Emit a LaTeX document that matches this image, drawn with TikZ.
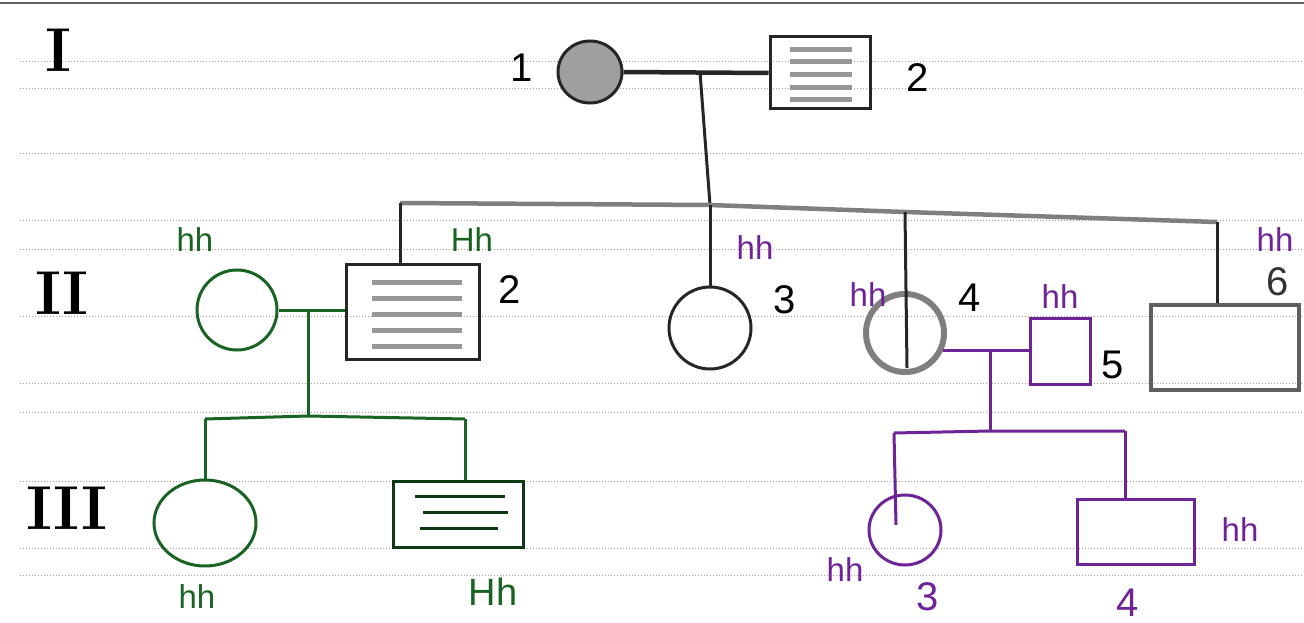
\documentclass[tikz,border=0pt]{standalone}
\usepackage{fontspec}
\newfontfamily\hand{Liberation Sans}
\usetikzlibrary{shapes.geometric}
\definecolor{pgreen}{RGB}{25,100,35}
\definecolor{ppurple}{RGB}{110,35,150}
\definecolor{pgray}{RGB}{95,95,95}
\definecolor{rule}{RGB}{185,150,150}
\tikzset{
  fem/.style={ellipse, draw, line width=3pt, inner sep=0pt},
  mal/.style={rectangle, draw, line width=3pt, inner sep=0pt},
  lnk/.style={line width=3pt},
  gt/.style={font=\hand\fontsize{33}{35}\selectfont, inner sep=1pt},
  num/.style={font=\hand\fontsize{40}{42}\selectfont, inner sep=1pt},
  gen/.style={font=\bfseries\fontsize{62}{64}\selectfont, inner sep=0pt},
  hatch/.style={line width=5pt, pgray!65},
  ruled/.style={rule, line width=1pt, dotted}
}
\begin{document}
\begin{tikzpicture}[x=1pt,y=-1pt]
\useasboundingbox (0,0) rectangle (1304,623);
\fill[white] (0,0) rectangle (1304,623);
% ruled paper
\foreach \y in {62,89,154,220,249,316,383,412,481,548,575}
  \draw[ruled] (20,\y) -- (1304,\y);
\draw[pgray, line width=2pt] (0,3) -- (1304,3);
% generation labels
\node[gen] (g1) at (58,50) {I};
\node[gen] (g2) at (62,293) {II};
\node[gen] (g3) at (67,508) {III};
% generation I
\node[fem, fill=pgray!60, draw=black!85, minimum width=64pt, minimum height=62pt] (i1) at (590,72) {};
\node[mal, draw=black!85, minimum width=100pt, minimum height=72pt] (i2) at (820,73) {};
\foreach \y in {50,62,75,88,100} \draw[hatch] (790,\y) -- (852,\y);
\node[num] (l11) at (522,68) {1};
\node[num] (l12) at (918,78) {2};
\draw[lnk, black!85, line width=4.5pt] (i1.east) -- (i2.west);
\coordinate (m1) at (700,72);
\coordinate (s1) at (710,205);
\draw[lnk, black!85] (m1) -- (s1);
% generation II sibship (gray)
\coordinate (s1a) at (400,203);
\coordinate (s1d) at (1217,222);
\draw[lnk, pgray!80, line width=4.5pt] (s1a) -- (s1) -- (905,212) -- (s1d);
% II individuals
\node[fem, draw=pgreen, minimum size=80pt] (ii1) at (237,310) {};
\node[mal, draw=black!85, minimum width=133pt, minimum height=95pt] (ii2) at (413,312) {};
\foreach \y in {282,298,314,330,346} \draw[hatch] (372,\y) -- (462,\y);
\node[fem, draw=black!85, minimum size=82pt] (ii3) at (710,328) {};
\node[fem, draw=pgray!80, line width=6pt, minimum size=78pt] (ii4) at (905,333) {};
\node[mal, draw=ppurple, minimum width=60pt, minimum height=66pt] (ii5) at (1060,351) {};
\node[mal, draw=pgray, line width=4pt, minimum width=148pt, minimum height=85pt] (ii6) at (1225,347) {};
% drops from gen I sibship
\draw[lnk, black!85] (s1a) -- (s1a |- ii2.north);
\draw[lnk, black!85] (s1) -- (s1 |- ii3.north);
\draw[lnk, black!85] (905,212) -- (907,368);
\draw[lnk, black!85] (s1d) -- (s1d |- ii6.north);
% II labels
\node[gt, text=pgreen] (t21) at (195,240) {hh};
\node[gt, text=pgreen] (t22) at (472,240) {Hh};
\node[num] (n22) at (510,290) {2};
\node[gt, text=ppurple] (t23) at (755,248) {hh};
\node[num] (n23) at (785,300) {3};
\node[gt, text=ppurple] (t24) at (868,295) {hh};
\node[num] (n24) at (970,298) {4};
\node[gt, text=ppurple] (t25) at (1060,297) {hh};
\node[num] (n25) at (1113,365) {5};
\node[gt, text=ppurple] (t26) at (1275,240) {hh};
\node[num, text=black!80] (n26) at (1278,282) {6};
% green family
\draw[lnk, pgreen] (ii1.east) -- (ii2.west |- ii1.east);
\coordinate (m2) at (308,310);
\coordinate (s2) at (308,416);
\draw[lnk, pgreen] (m2) -- (s2);
\coordinate (s2a) at (205,419);
\coordinate (s2b) at (465,419);
\draw[lnk, pgreen] (s2a) -- (s2) -- (s2b);
\node[fem, draw=pgreen, minimum width=102pt, minimum height=86pt] (iii1) at (205,523) {};
\node[mal, draw=pgreen!55!black, minimum width=130pt, minimum height=66pt] (iii2) at (458,514) {};
\foreach \y/\a/\b in {496/415/505,512/423/508,528/420/498} \draw[pgreen!55!black, line width=3pt] (\a,\y) -- (\b,\y);
\draw[lnk, pgreen] (s2a) -- (iii1.north);
\draw[lnk, pgreen] (s2b) -- (s2b |- iii2.north);
\node[gt, text=pgreen] (t31) at (197,597) {hh};
\node[gt, text=pgreen, font=\hand\fontsize{38}{40}\selectfont] (t32) at (493,592) {Hh};
% purple family
\draw[lnk, ppurple] (ii4.-25) -- (ii4.-25 -| ii5.west);
\coordinate (m3) at (990,350);
\coordinate (s3) at (990,431);
\draw[lnk, ppurple] (m3) -- (s3);
\coordinate (s3a) at (894,433);
\coordinate (s3b) at (1125,431);
\draw[lnk, ppurple] (s3a) -- (s3) -- (s3b);
\node[fem, draw=ppurple, minimum width=72pt, minimum height=70pt] (iii3) at (905,530) {};
\node[mal, draw=ppurple, minimum width=117pt, minimum height=65pt] (iii4) at (1136,532) {};
\draw[lnk, ppurple] (s3a) -- (896,525);
\draw[lnk, ppurple] (s3b) -- (s3b |- iii4.north);
\node[gt, text=ppurple] (t33) at (845,570) {hh};
\node[num, text=ppurple] (n33) at (928,597) {3};
\node[gt, text=ppurple] (t34) at (1240,530) {hh};
\node[num, text=ppurple] (n34) at (1128,603) {4};
\end{tikzpicture}
\end{document}
